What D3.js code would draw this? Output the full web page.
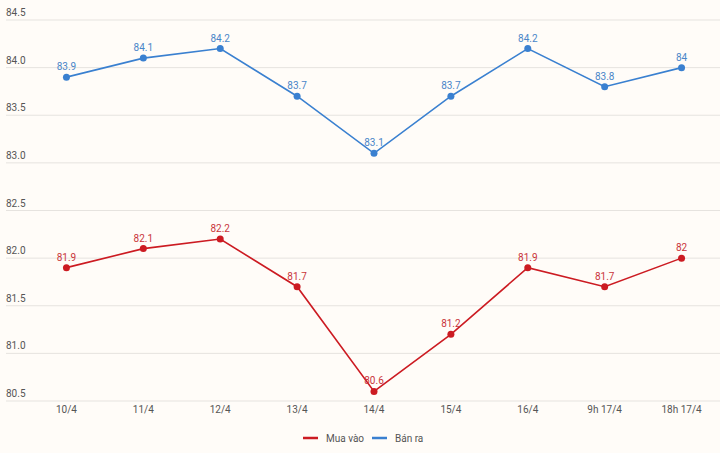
<!DOCTYPE html>
<html lang="vi">
<head>
<meta charset="UTF-8">
<title>Mua vào / Bán ra</title>
<script src="https://d3js.org/d3.v7.min.js"></script>
<style>
  html, body { margin: 0; padding: 0; background: #fffcf8; }
  svg { display: block; font-family: Roboto, "Noto Sans", sans-serif; }
</style>
</head>
<body>
<svg width="720" height="453"></svg>
<script>
// dates on the x axis
const labels = ["10/4", "11/4", "12/4", "13/4", "14/4", "15/4", "16/4", "9h 17/4", "18h 17/4"];
// buy price (Mua vào)
const buy = [81.9, 82.1, 82.2, 81.7, 80.6, 81.2, 81.9, 81.7, 82];
// sell price (Bán ra)
const sell = [83.9, 84.1, 84.2, 83.7, 83.1, 83.7, 84.2, 83.8, 84];
const yTicks = [80.5, 81, 81.5, 82, 82.5, 83, 83.5, 84, 84.5];

const width = 720, height = 453;
const svg = d3.select("svg");

const x = d3.scalePoint().domain(labels).range([28, 720]).padding(0.5);
const y = d3.scaleLinear().domain([80.5, 84.5]).range([401, 20]);

// grid + y labels
const grid = svg.append("g");
grid.selectAll("line").data(yTicks).enter().append("line")
  .attr("x1", 6).attr("x2", width)
  .attr("y1", d => y(d)).attr("y2", d => y(d))
  .attr("stroke", "#e6e3df").attr("stroke-width", 1);
grid.selectAll("text").data(yTicks).enter().append("text")
  .attr("x", 6).attr("y", d => y(d) - 4)
  .attr("font-size", 10).attr("fill", "#555")
  .text(d => d.toFixed(1));

// x axis labels
svg.append("g").selectAll("text").data(labels).enter().append("text")
  .attr("x", d => x(d)).attr("y", 413)
  .attr("text-anchor", "middle").attr("font-size", 10).attr("fill", "#555")
  .text(d => d);

const series = [
  { name: "Mua vào", values: buy, color: "#cc1b22", text: "#c9343a" },
  { name: "Bán ra", values: sell, color: "#3a80d0", text: "#4a86c8" }
];

const line = d3.line().x((d, i) => x(labels[i])).y(d => y(d));

series.forEach(s => {
  const g = svg.append("g");
  g.append("path").datum(s.values)
    .attr("d", line).attr("fill", "none")
    .attr("stroke", s.color).attr("stroke-width", 1.6);
  g.selectAll("circle").data(s.values).enter().append("circle")
    .attr("cx", (d, i) => x(labels[i])).attr("cy", d => y(d))
    .attr("r", 3.5).attr("fill", s.color);
  g.selectAll("text").data(s.values).enter().append("text")
    .attr("x", (d, i) => x(labels[i])).attr("y", d => y(d) - 7)
    .attr("text-anchor", "middle").attr("font-size", 10).attr("fill", s.text)
    .text(d => d);
});

// legend
const legend = svg.append("g");
const legendPos = [303, 372];
series.forEach((s, i) => {
  legend.append("line")
    .attr("x1", legendPos[i]).attr("x2", legendPos[i] + 15)
    .attr("y1", 438).attr("y2", 438)
    .attr("stroke", s.color).attr("stroke-width", 2.5);
  legend.append("text")
    .attr("x", legendPos[i] + 23).attr("y", 441.5)
    .attr("font-size", 10).attr("fill", "#555")
    .text(s.name);
});
</script>
</body>
</html>
